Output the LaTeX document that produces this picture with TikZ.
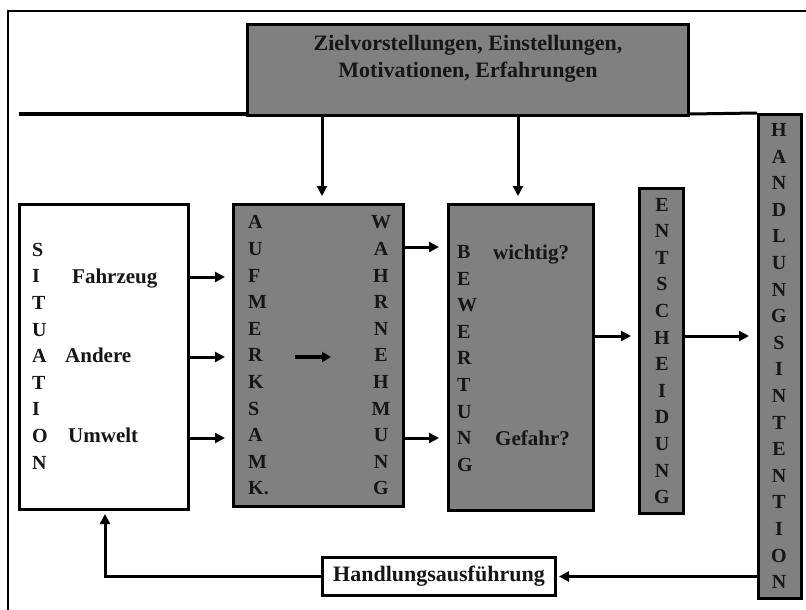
\documentclass[tikz,border=0pt]{standalone}
\usepackage{fontspec}
\setmainfont{Liberation Serif}
\usetikzlibrary{arrows.meta}
\definecolor{boxgray}{RGB}{128,128,128}
\definecolor{ink}{RGB}{22,22,22}

\begin{document}
\begin{tikzpicture}[x=1pt,y=-1pt,
  graybox/.style={draw=black, line width=3pt, fill=boxgray, inner sep=0pt},
  whitebox/.style={draw=black, line width=3pt, fill=white, inner sep=0pt},
  column/.style={text=ink, font=\bfseries\fontsize{20}{26.6}\selectfont, inner sep=0pt},
  label/.style={text=ink, font=\bfseries\fontsize{21}{27}\selectfont, inner sep=0pt},
  biglabel/.style={text=ink, font=\bfseries\fontsize{22}{27}\selectfont, inner sep=0pt},
  flow/.style={line width=3pt, -{Triangle[length=10pt,width=10pt]}},
]
\useasboundingbox (0,0) rectangle (806,610);
\clip (0,0) rectangle (806,610);

% outer frame (only top and left edges fall inside the page)
\draw[line width=2.7pt] (8,620) -- (8,11) -- (820,11);

% boxes
\node[graybox, minimum width=441pt, minimum height=91pt] (ziel) at (468,70) {};
\node[whitebox, minimum width=169pt, minimum height=305pt] (situation) at (104,357) {};
\node[graybox, minimum width=170pt, minimum height=302pt] (aufm) at (318.5,355.5) {};
\node[graybox, minimum width=145pt, minimum height=306pt] (bewertung) at (521,357.5) {};
\node[graybox, minimum width=44pt, minimum height=325pt] (entsch) at (661.5,351) {};
\node[graybox, minimum width=43pt, minimum height=484pt] (handl) at (780,356.5) {};
\node[whitebox, minimum width=233pt, minimum height=38pt, biglabel] (ausf) at (439,576.5) {Handlungsausführung};

% influences line
\coordinate (hl) at (19,114);
\draw[line width=4pt] (hl) -- (ziel.west |- hl);
\draw[line width=3pt] (ziel.east |- hl) -- (handl.north west);

% top box text
\node[biglabel, anchor=base] (ziel1) at (468,50.3) {Zielvorstellungen, Einstellungen,};
\node[biglabel, anchor=base] (ziel2) at (468,77.3) {Motivationen, Erfahrungen};

% letter columns
\node[column, align=left, anchor=west] (sitcol) at (32,356) {S\\I\\T\\U\\A\\T\\I\\O\\N};
\node[column, align=left, anchor=west] (aufcol) at (248,355.5) {A\\U\\F\\M\\E\\R\\K\\S\\A\\M\\K.};
\node[column, align=center] (wahrcol) at (381,355.5) {W\\A\\H\\R\\N\\E\\H\\M\\U\\N\\G};
\node[column, align=left, anchor=west] (bewcol) at (457,358.5) {B\\E\\W\\E\\R\\T\\U\\N\\G};
\node[column, align=center] (entcol) at (662,351) {E\\N\\T\\S\\C\\H\\E\\I\\D\\U\\N\\G};
\node[column, align=center] (handcol) at (779,356) {H\\A\\N\\D\\L\\U\\N\\G\\S\\I\\N\\T\\E\\N\\T\\I\\O\\N};

% side labels
\node[label, anchor=base west] (fahrzeug) at (72,283) {Fahrzeug};
\node[label, anchor=base west] (andere) at (65,362) {Andere};
\node[label, anchor=base west] (umwelt) at (68,442) {Umwelt};
\node[label, anchor=base west] (wichtig) at (493,259) {wichtig?};
\node[label, anchor=base west] (gefahr) at (495,445) {Gefahr?};

% arrow rows and columns
\coordinate (d1) at (322,0);
\coordinate (d2) at (518,0);
\coordinate (r1) at (0,277);
\coordinate (r2) at (0,357);
\coordinate (r3) at (0,438);
\coordinate (q1) at (0,247);
\coordinate (q2) at (0,438);
\coordinate (m1) at (0,336);
\coordinate (fb) at (105,0);
\coordinate (wstart) at (295,357);
\coordinate (wend) at (331,357);

% downward influences
\draw[flow, shorten >=7pt] (ziel.south -| d1) -- (aufm.north -| d1);
\draw[flow, shorten >=7pt] (ziel.south -| d2) -- (bewertung.north -| d2);

% situation -> attention
\draw[flow, shorten >=7pt] (situation.east |- r1) -- (aufm.west |- r1);
\draw[flow, shorten >=7pt] (situation.east |- r2) -- (aufm.west |- r2);
\draw[flow, shorten >=7pt] (situation.east |- r3) -- (aufm.west |- r3);

% attention -> perception inside the box
\draw[line width=4pt, -{Triangle[length=9pt,width=10pt]}] (wstart) -- (wend);

% perception -> evaluation
\draw[flow, shorten >=8pt] (aufm.east |- q1) -- (bewertung.west |- q1);
\draw[flow, shorten >=8pt] (aufm.east |- q2) -- (bewertung.west |- q2);

% evaluation -> decision -> intention
\draw[flow, shorten >=7pt] (bewertung.east |- m1) -- (entsch.west |- m1);
\draw[flow, shorten >=8pt] (entsch.east |- m1) -- (handl.west |- m1);

% intention -> execution -> back to situation
\draw[flow, shorten >=2pt] (handl.west |- ausf.east) -- (ausf.east);
\draw[flow, shorten >=3pt] (ausf.west) -| (situation.south -| fb);
\end{tikzpicture}
\end{document}
